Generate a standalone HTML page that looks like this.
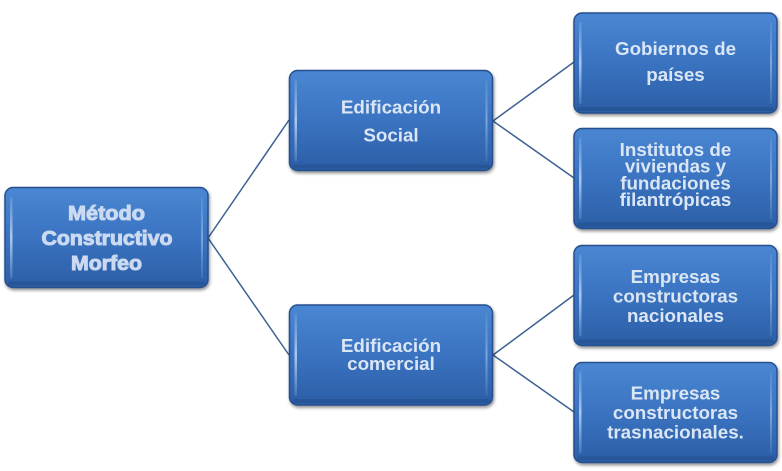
<!DOCTYPE html>
<html><head><meta charset="utf-8"><style>
html,body{margin:0;padding:0;background:#fff;}
svg{display:block;}
text{font-family:"Liberation Sans",Arial,sans-serif;font-weight:bold;text-anchor:middle;}
.t{fill:#dbe6f5;font-size:18.8px;}
.r{fill:#cbdaf0;font-size:20px;stroke:#cbdaf0;stroke-width:1px;}
</style></head><body>
<svg width="782" height="471" viewBox="0 0 782 471" xmlns="http://www.w3.org/2000/svg">
<defs>
<linearGradient id="g" x1="0" y1="0" x2="0" y2="1">
<stop offset="0" stop-color="#4a87d3"/>
<stop offset="0.5" stop-color="#3a73c1"/>
<stop offset="1" stop-color="#2c5ea6"/>
</linearGradient>
<linearGradient id="hl" x1="0" y1="0" x2="0" y2="1">
<stop offset="0" stop-color="#a9c8ef" stop-opacity="0.2"/>
<stop offset="0.5" stop-color="#b8d3f5" stop-opacity="0.9"/>
<stop offset="1" stop-color="#a9c8ef" stop-opacity="0.2"/>
</linearGradient>
<filter id="sh" x="-10%" y="-10%" width="120%" height="130%">
<feGaussianBlur in="SourceAlpha" stdDeviation="1.5"/>
<feOffset dx="1" dy="2" result="o"/>
<feComponentTransfer><feFuncA type="linear" slope="0.45"/></feComponentTransfer>
<feMerge><feMergeNode/><feMergeNode in="SourceGraphic"/></feMerge>
</filter>
<g id="box">
<rect x="0" y="0" width="203" height="100" rx="8" ry="8" fill="url(#g)" stroke="#25508e" stroke-width="1.5"/>
<rect x="5" y="9" width="2.5" height="82" rx="1.2" fill="url(#hl)"/>
<rect x="196" y="9" width="2" height="82" rx="1" fill="url(#hl)" opacity="0.6"/>
<rect x="3" y="94" width="197" height="4" rx="2" fill="#224c88" opacity="0.5"/>
</g>
</defs>

<g stroke="#3d6192" stroke-width="1.5" fill="none">
<line x1="208" y1="238" x2="289" y2="120"/>
<line x1="208" y1="238" x2="289" y2="355"/>
<line x1="493" y1="121" x2="574" y2="62"/>
<line x1="493" y1="121" x2="574" y2="178"/>
<line x1="493" y1="355" x2="574" y2="295"/>
<line x1="493" y1="355" x2="574" y2="412"/>
</g>

<g filter="url(#sh)">
<use href="#box" transform="translate(5,187.5)"/>
<use href="#box" transform="translate(289.5,70.5)"/>
<use href="#box" transform="translate(289.5,305)"/>
<use href="#box" transform="translate(574,13)"/>
<use href="#box" transform="translate(574,128.5)"/>
<use href="#box" transform="translate(574,245.5)"/>
<use href="#box" transform="translate(574,362.5)"/>
</g>

<text class="r" x="106.5" y="220" textLength="77" lengthAdjust="spacingAndGlyphs">Método</text>
<text class="r" x="107" y="245" textLength="131" lengthAdjust="spacingAndGlyphs">Constructivo</text>
<text class="r" x="106.5" y="270" textLength="71" lengthAdjust="spacingAndGlyphs">Morfeo</text>

<text class="t" x="391" y="113.5">Edificación</text>
<text class="t" x="391" y="141.5">Social</text>

<text class="t" x="391" y="352">Edificación</text>
<text class="t" x="391" y="370">comercial</text>

<text class="t" x="675.5" y="55">Gobiernos de</text>
<text class="t" x="675.5" y="81">países</text>

<text class="t" x="675.5" y="156">Institutos de</text>
<text class="t" x="675.5" y="172.7">viviendas y</text>
<text class="t" x="675.5" y="189.4">fundaciones</text>
<text class="t" x="675.5" y="206">filantrópicas</text>

<text class="t" x="675.5" y="283">Empresas</text>
<text class="t" x="675.5" y="302.5">constructoras</text>
<text class="t" x="675.5" y="322">nacionales</text>

<text class="t" x="675.5" y="399.5">Empresas</text>
<text class="t" x="675.5" y="419">constructoras</text>
<text class="t" x="675.5" y="438.5">trasnacionales.</text>
</svg>
</body></html>
